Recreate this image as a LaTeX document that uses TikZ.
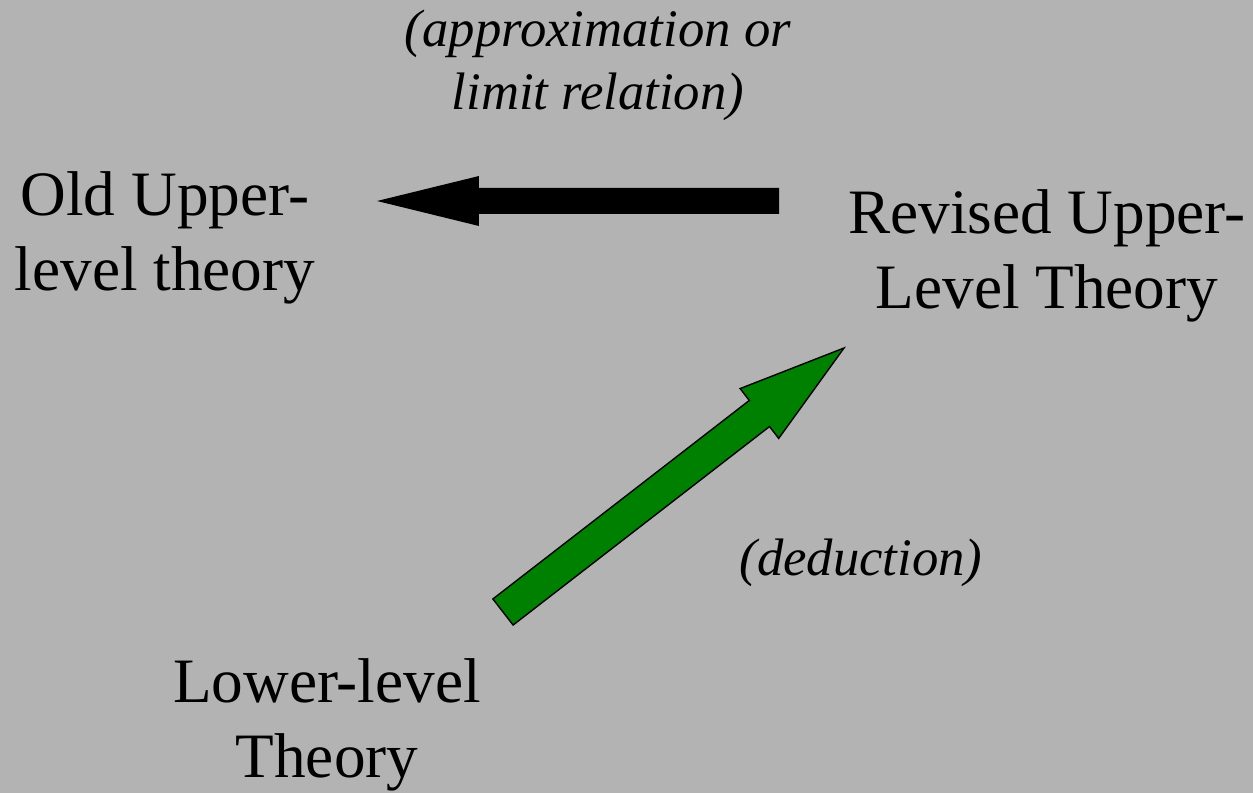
\documentclass[tikz,border=0pt]{standalone}
\usepackage{fontspec}
\setmainfont{Liberation Serif}
\usetikzlibrary{calc}
\definecolor{slidegray}{RGB}{179,179,179}
\definecolor{deduce}{RGB}{0,128,0}
% block arrow: style, tail, tip, half shaft, half head, head length
\newcommand\blockarrow[6]{%
  \coordinate (neck) at ($(#3)!#6!(#2)$);
  \path[#1] ($(#2)!#4!90:(#3)$) -- ($(neck)!#4!90:(#3)$) -- ($(neck)!#5!90:(#3)$) -- (#3)
    -- ($(neck)!#5!-90:(#3)$) -- ($(neck)!#4!-90:(#3)$) -- ($(#2)!#4!-90:(#3)$) -- cycle;}

\begin{document}
\begin{tikzpicture}[x=0.02cm,y=-0.02cm,
  theory/.style={align=center,font=\fontsize{36}{43}\selectfont,inner sep=0pt},
  remark/.style={align=center,font=\fontsize{30}{36}\selectfont\itshape,inner sep=0pt}]
\useasboundingbox (0,0) rectangle (1253,793);
\fill[slidegray] (0,0) rectangle (1253,793);
% theories
\node[theory] (old) at (165,238) {Old Upper-\\level theory};
\node[theory] (revised) at (1047,256) {Revised Upper-\\Level Theory};
\node[theory] (lower) at (327,725) {Lower-level\\Theory};
% relations
\node[remark] (approx) at (598,65) {(approximation or\\limit relation)};
\node[remark] (deduct) at (861,563) {(deduction)};
% arrows
\coordinate (revtail) at (779,201);
\coordinate (oldtip) at (377,201);
\blockarrow{fill=black}{revtail}{oldtip}{0.26cm}{0.5cm}{2.04cm}
\coordinate (lowtail) at (503,612);
\coordinate (revtip) at (844,348);
\blockarrow{fill=deduce,draw=black,line width=0.8pt}{lowtail}{revtip}{0.33cm}{0.63cm}{2.14cm}
\end{tikzpicture}
\end{document}
